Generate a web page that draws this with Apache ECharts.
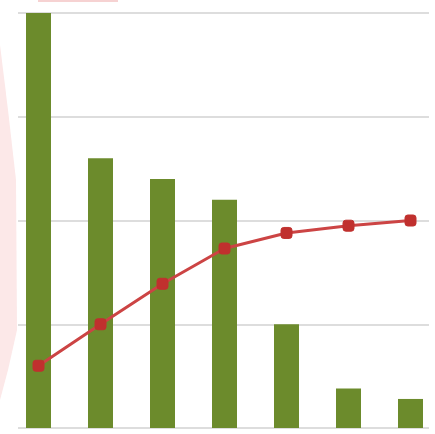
<!DOCTYPE html>
<html>
<head>
<meta charset="utf-8">
<script src="https://cdn.jsdelivr.net/npm/echarts@6/dist/echarts.min.js"></script>
<style>html,body{margin:0;padding:0;background:#fff;overflow:hidden;}#c{width:442px;height:434px;}</style>
</head>
<body>
<div id="c"></div>
<script>
const categories = ['A', 'B', 'C', 'D', 'E', 'F', 'G'];
const barValues = [40, 26, 24, 22, 10, 3.8, 2.8];
const cumulativePct = [30, 50, 69.5, 86.5, 94, 97.5, 100];
const leftTicks = [0, 10, 20, 30, 40];

const chart = echarts.init(document.getElementById('c'), null, {renderer: 'canvas'});
chart.setOption({
  animation: false,
  backgroundColor: '#ffffff',
  graphic: [
    {type: 'polygon', z: -10, silent: true,
     shape: {points: [[0, 45], [8, 110], [16, 180], [17, 330], [8, 370], [0, 400]]},
     style: {fill: '#fce8e8'}},
    {type: 'rect', z: -10, silent: true,
     shape: {x: 38, y: 0, width: 80, height: 2},
     style: {fill: '#f6d2d2'}}
  ],
  grid: [
    {left: 18, right: 13, top: 13, bottom: 6},
    {left: 7.5, right: 0.5, top: 13, bottom: 6}
  ],
  xAxis: [
    {gridIndex: 0, type: 'value', min: 0, max: 1, show: false},
    {gridIndex: 1, type: 'category', data: categories, boundaryGap: true,
     axisLine: {show: false}, axisTick: {show: false}, axisLabel: {show: false}}
  ],
  yAxis: [
    {gridIndex: 0, type: 'value', min: leftTicks[0], max: leftTicks[leftTicks.length - 1], interval: 10,
     axisLine: {show: false}, axisTick: {show: false}, axisLabel: {show: false},
     splitLine: {show: true, lineStyle: {color: '#dddddd', width: 2}}},
    {gridIndex: 1, type: 'value', min: 0, max: 40, interval: 10, show: false, splitLine: {show: false}},
    {gridIndex: 1, type: 'value', min: 0, max: 200, interval: 50, show: false, splitLine: {show: false}}
  ],
  series: [
    {type: 'bar', xAxisIndex: 1, yAxisIndex: 1, data: barValues, barWidth: 25,
     itemStyle: {color: '#6c8b2c'}},
    {type: 'line', xAxisIndex: 1, yAxisIndex: 2, data: cumulativePct,
     symbol: 'roundRect', symbolSize: 11,
     lineStyle: {color: '#cc4444', width: 3},
     itemStyle: {color: '#c0302e', borderColor: '#c0302e'}, z: 5}
  ]
});
</script>
</body>
</html>
